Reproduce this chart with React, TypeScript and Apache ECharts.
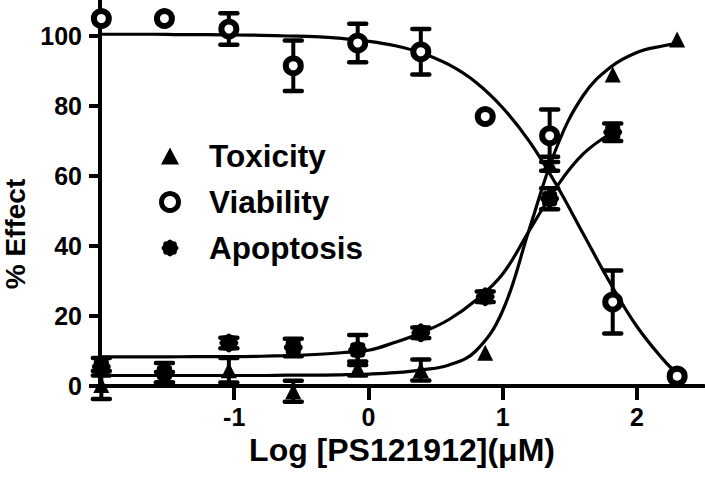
import React, { useEffect, useRef } from 'react';
import * as echarts from 'echarts';

// ---- data ----
const doseLog = [-1.99, -1.52, -1.04, -0.56, -0.08, 0.39, 0.87, 1.35, 1.82, 2.3];
const toxicity = [0.3, 2.5, 4.5, -1.5, 5, 4.6, 9.5, 63.5, 89, 99];
const toxicityErr = [4, 1.5, 3.5, 3, 2, 3, 0, 2, 0, 0];
const viability = [105, 105, 102, 91.5, 98, 95.5, 77, 71.5, 24, 2.8];
const viabilityErr = [0, 0, 4.5, 7.2, 5.5, 6.5, 0, 7.5, 9, 0];
const apoptosis = [5.5, 3.8, 12.3, 11, 10.3, 15.2, 25.5, 53.5, 72.5];
const apoptosisErr = [2.5, 2.8, 1.5, 2.5, 4.3, 1.5, 1.5, 3, 2.5];

// fitted curves
const viabilityFitX = [-2, -1.8, -1.6, -1.4, -1.2, -1, -0.8, -0.6, -0.4, -0.2, 0, 0.2, 0.4, 0.6, 0.8, 1, 1.2, 1.4, 1.6, 1.8, 2, 2.2, 2.3];
const viabilityFitY = [100.5, 100.5, 100.5, 100.4, 100.4, 100.3, 100.2, 100, 99.8, 99.3, 98.5, 97.2, 95.1, 91.8, 86.8, 79.5, 69.8, 57.5, 43.5, 29.5, 17, 7.4, 3.6];
const toxicityFitX = [-2, -1.8, -1.6, -1.4, -1.2, -1, -0.8, -0.6, -0.4, -0.2, 0, 0.2, 0.4, 0.6, 0.8, 1, 1.2, 1.4, 1.6, 1.8, 2, 2.2, 2.3];
const toxicityFitY = [3, 3, 3, 3, 3, 3, 3, 3.1, 3.1, 3.2, 3.4, 3.8, 4.6, 6, 10, 21.5, 45, 68, 83, 91, 95.3, 97.2, 97.8];
const apoptosisFitX = [-2, -1.8, -1.6, -1.4, -1.2, -1, -0.8, -0.6, -0.4, -0.2, 0, 0.2, 0.4, 0.6, 0.8, 1, 1.2, 1.4, 1.6, 1.82];
const apoptosisFitY = [8.3, 8.3, 8.3, 8.35, 8.4, 8.4, 8.5, 8.7, 9, 9.5, 10.2, 12.5, 15.3, 19, 24.5, 32, 44.5, 56.8, 66.3, 72.5];

const xTicks = [-1, 0, 1, 2];
const yTicks = [0, 20, 40, 60, 80, 100];

const FONT = '"Liberation Sans", Arial, Helvetica, sans-serif';

// 8-lobed scalloped marker
const flowerPath = (() => {
  const rv = 9, rc = 12.5;
  const pt = (deg: number, r: number) => {
    const a = (deg * Math.PI) / 180;
    return [(r * Math.cos(a)).toFixed(3), (r * Math.sin(a)).toFixed(3)];
  };
  let d = '';
  const v0 = pt(-22.5, rv);
  d += `M${v0[0]} ${v0[1]}`;
  for (let i = 0; i < 8; i++) {
    const c = pt(i * 45, rc);
    const v = pt(i * 45 + 22.5, rv);
    d += ` Q${c[0]} ${c[1]} ${v[0]} ${v[1]}`;
  }
  return 'path://' + d + ' Z';
})();

const zip = (xs: number[], ys: number[]) => ys.map((y, i) => [xs[i], y]);
const errData = (xs: number[], ys: number[], es: number[]) =>
  ys
    .map((y, i) => [xs[i], y - es[i], y + es[i], es[i]])
    .filter((d) => d[3] > 0);

const renderErr = (params: any, api: any) => {
  const x = api.value(0);
  const lo = api.coord([x, api.value(1)]);
  const hi = api.coord([x, api.value(2)]);
  const half = 8.5;
  const st = { stroke: '#000', lineWidth: 4.5, lineCap: 'round' };
  return {
    type: 'group',
    children: [
      { type: 'line', shape: { x1: lo[0], y1: lo[1], x2: hi[0], y2: hi[1] }, style: { stroke: '#000', lineWidth: 4 } },
      { type: 'line', shape: { x1: hi[0] - half, y1: hi[1], x2: hi[0] + half, y2: hi[1] }, style: st },
      { type: 'line', shape: { x1: lo[0] - half, y1: lo[1], x2: lo[0] + half, y2: lo[1] }, style: st },
    ],
  };
};

const fitLine = (name: string, xs: number[], ys: number[]) => ({
  name,
  type: 'line',
  data: zip(xs, ys),
  showSymbol: false,
  symbol: 'none',
  smooth: 0.4,
  lineStyle: { color: '#000', width: 3.2 },
  silent: true,
  z: 2,
});

const errSeries = (name: string, xs: number[], ys: number[], es: number[]) => ({
  name,
  type: 'custom',
  data: errData(xs, ys, es),
  renderItem: renderErr,
  clip: false,
  silent: true,
  z: 3,
});

export default function App() {
  const ref = useRef<HTMLDivElement>(null);
  useEffect(() => {
    if (!ref.current) return;
    const chart = echarts.init(ref.current, undefined, { renderer: 'svg' });
    const option: any = {
      animation: false,
      backgroundColor: '#fff',
      grid: { left: 100, right: 1, top: 1, bottom: 98 },
      xAxis: {
        type: 'value',
        min: -2,
        max: 2.5,
        interval: 1,
        splitLine: { show: false },
        axisLine: { onZero: true, lineStyle: { color: '#000', width: 4 } },
        axisTick: { customValues: xTicks, length: 14, lineStyle: { color: '#000', width: 4 } },
        axisLabel: {
          customValues: xTicks,
          margin: 18,
          color: '#000',
          fontSize: 25,
          fontWeight: 'bold',
          fontFamily: FONT,
        },
        name: 'Log [PS121912](μM)',
        nameLocation: 'middle',
        nameGap: 48,
        nameTextStyle: { color: '#000', fontSize: 32, fontWeight: 'bold', fontFamily: FONT },
      },
      yAxis: {
        type: 'value',
        min: 0,
        max: 110,
        interval: 20,
        splitLine: { show: false },
        axisLine: { show: true, onZero: false, lineStyle: { color: '#000', width: 4 } },
        axisTick: { show: true, customValues: yTicks, length: 11, lineStyle: { color: '#000', width: 4 } },
        axisLabel: {
          customValues: yTicks,
          margin: 18,
          color: '#000',
          fontSize: 25,
          fontWeight: 'bold',
          fontFamily: FONT,
        },
      },
      legend: {
        orient: 'vertical',
        left: 154,
        top: 135,
        itemWidth: 18,
        itemHeight: 17,
        itemGap: 14,
        selectedMode: false,
        textStyle: {
          color: '#000',
          fontSize: 31.5,
          fontWeight: 'bold',
          fontFamily: FONT,
          lineHeight: 31,
          padding: [0, 0, 0, 25],
        },
        data: [
          { name: 'Toxicity', icon: 'triangle', itemStyle: { color: '#000', borderWidth: 0, opacity: 1 } },
          { name: 'Viability', icon: 'circle', itemStyle: { color: '#fff', borderColor: '#000', borderWidth: 5, opacity: 1 } },
          { name: 'Apoptosis', icon: flowerPath, itemStyle: { color: '#000', borderWidth: 0, opacity: 1 } },
        ],
      },
      graphic: [
        {
          type: 'text',
          x: 15,
          y: 234,
          rotation: Math.PI / 2,
          style: {
            text: '% Effect',
            fill: '#000',
            font: `bold 28px ${FONT}`,
            align: 'center',
            verticalAlign: 'middle',
          },
        },
      ],
      series: [
        fitLine('Viability fit', viabilityFitX, viabilityFitY),
        fitLine('Toxicity fit', toxicityFitX, toxicityFitY),
        fitLine('Apoptosis fit', apoptosisFitX, apoptosisFitY),
        errSeries('Viability err', doseLog, viability, viabilityErr),
        errSeries('Toxicity err', doseLog, toxicity, toxicityErr),
        errSeries('Apoptosis err', doseLog, apoptosis, apoptosisErr),
        {
          name: 'Toxicity',
          type: 'scatter',
          data: zip(doseLog, toxicity),
          symbol: 'triangle',
          symbolSize: 16,
          itemStyle: { color: '#000', opacity: 1 },
          clip: false,
          z: 4,
        },
        {
          name: 'Apoptosis',
          type: 'scatter',
          data: zip(doseLog, apoptosis),
          symbol: flowerPath,
          symbolSize: 19,
          itemStyle: { color: '#000', opacity: 1 },
          clip: false,
          z: 4,
        },
        {
          name: 'Viability',
          type: 'scatter',
          data: zip(doseLog, viability),
          symbol: 'circle',
          symbolSize: 15,
          itemStyle: { color: '#fff', borderColor: '#000', borderWidth: 6, opacity: 1 },
          clip: false,
          z: 5,
        },
      ],
    };
    chart.setOption(option);
    return () => chart.dispose();
  }, []);
  return (
    <div
      ref={ref}
      style={{ position: 'fixed', left: 0, top: 0, width: 705, height: 484, background: '#fff' }}
    />
  );
}
